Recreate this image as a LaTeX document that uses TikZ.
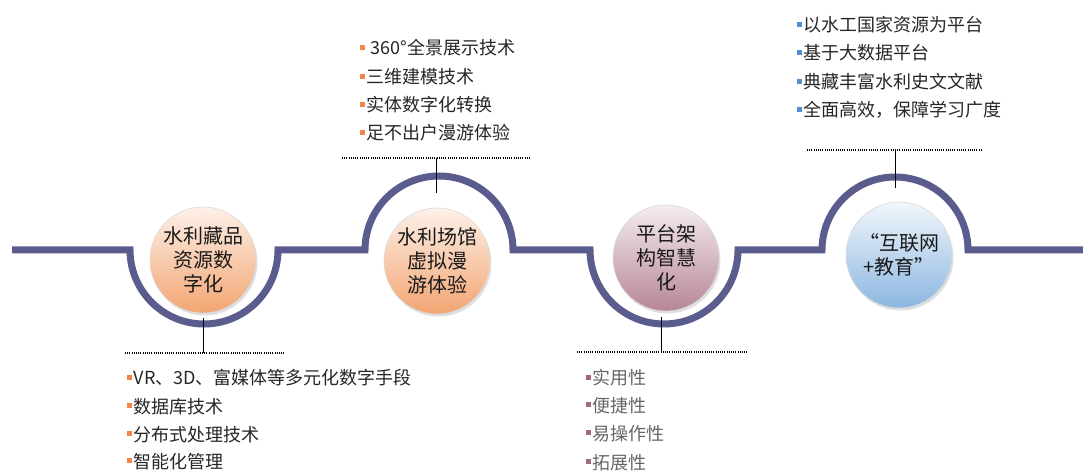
\documentclass[tikz,border=0pt]{standalone}
\usepackage{fontspec}
\setmainfont{Noto Sans CJK SC}
\usepackage{tikz}
\usetikzlibrary{shadows}

\definecolor{pathcol}{HTML}{5B5C8E}
\definecolor{orbul}{HTML}{F0874A}
\definecolor{pkbul}{HTML}{A5677F}
\definecolor{blbul}{HTML}{4F8FD0}
\definecolor{peach}{HTML}{F2A06A}
\newcommand{\bul}[1]{\textcolor{#1}{\rule[0.3em]{4.5pt}{4.5pt}}\hspace{2pt}}

\begin{document}
\begin{tikzpicture}[x=1pt,y=1pt,
  ball/.style={circle, minimum size=106pt, inner sep=0pt, align=center,
    font=\fontsize{20}{24}\selectfont, text=black!90, draw=white!85!black, line width=0.6pt,
    drop shadow={opacity=0.25, shadow xshift=1.5pt, shadow yshift=-2.5pt}},
  item/.style={anchor=base west, inner sep=0pt, font=\fontsize{18}{28}\selectfont, text=black!85},
  dots/.style={line width=1.3pt, dash pattern=on 1pt off 1.2pt},
  tick/.style={line width=1pt}]
\useasboundingbox (0,0) rectangle (1083,471);
\draw[pathcol, line width=7pt] (12,221) -- (130,221) arc[start angle=180, end angle=360, radius=74]
  -- (365,221) arc[start angle=180, end angle=0, radius=74]
  -- (590,221) arc[start angle=180, end angle=360, radius=74]
  -- (822,221) arc[start angle=180, end angle=0, radius=73] -- (1083,221);
\node[ball, top color=peach!15, middle color=peach!45, bottom color=peach!95] (c1) at (203,211) {水利藏品\\资源数\\字化};
\node[ball, top color=peach!15, middle color=peach!45, bottom color=peach!95] (c2) at (437,210) {水利场馆\\虚拟漫\\游体验};
\node[ball, top color=pkbul!12, middle color=pkbul!38, bottom color=pkbul!80] (c3) at (666,213) {平台架\\构智慧\\化};
\node[ball, top color=blbul!8, middle color=blbul!30, bottom color=blbul!65] (c4) at (899,216) {“互联网\\+教育”};
% ticks and dotted rules
\coordinate (d1) at (203,118);
\coordinate (e1) at (203,153);
\coordinate (d2) at (436,313);
\coordinate (e2) at (436,278);
\coordinate (d3) at (661,119);
\coordinate (e3) at (661,154);
\coordinate (d4) at (895,321);
\coordinate (e4) at (895,283);
\draw[tick] (d1) -- (e1);
\draw[tick] (d2) -- (e2);
\draw[tick] (d3) -- (e3);
\draw[tick] (d4) -- (e4);
\draw[dots] (125,118) -- (285,118);
\draw[dots] (342,313) -- (530,313);
\draw[dots] (577,119) -- (747,119);
\draw[dots] (807,321) -- (981,321);
% lists
\node[item] (a1) at (127,86) {\bul{orbul}VR、3D、富媒体等多元化数字手段};
\node[item] (a2) at (127,58) {\bul{orbul}数据库技术};
\node[item] (a3) at (127,30) {\bul{orbul}分布式处理技术};
\node[item] (a4) at (127,3) {\bul{orbul}智能化管理};
\node[item] (b1) at (360,416) {\bul{orbul} 360°全景展示技术};
\node[item] (b2) at (360,387) {\bul{orbul}三维建模技术};
\node[item] (b3) at (360,359) {\bul{orbul}实体数字化转换};
\node[item] (b4) at (360,331) {\bul{orbul}足不出户漫游体验};
\node[item, text=black!60] (p1) at (586,86) {\bul{pkbul}实用性};
\node[item, text=black!60] (p2) at (586,59) {\bul{pkbul}便捷性};
\node[item, text=black!60] (p3) at (586,31) {\bul{pkbul}易操作性};
\node[item, text=black!60] (p4) at (586,2) {\bul{pkbul}拓展性};
\node[item] (q1) at (797,439) {\bul{blbul}以水工国家资源为平台};
\node[item] (q2) at (797,411) {\bul{blbul}基于大数据平台};
\node[item] (q3) at (797,382) {\bul{blbul}典藏丰富水利史文文献};
\node[item] (q4) at (797,354) {\bul{blbul}全面高效，保障学习广度};
\end{tikzpicture}
\end{document}
